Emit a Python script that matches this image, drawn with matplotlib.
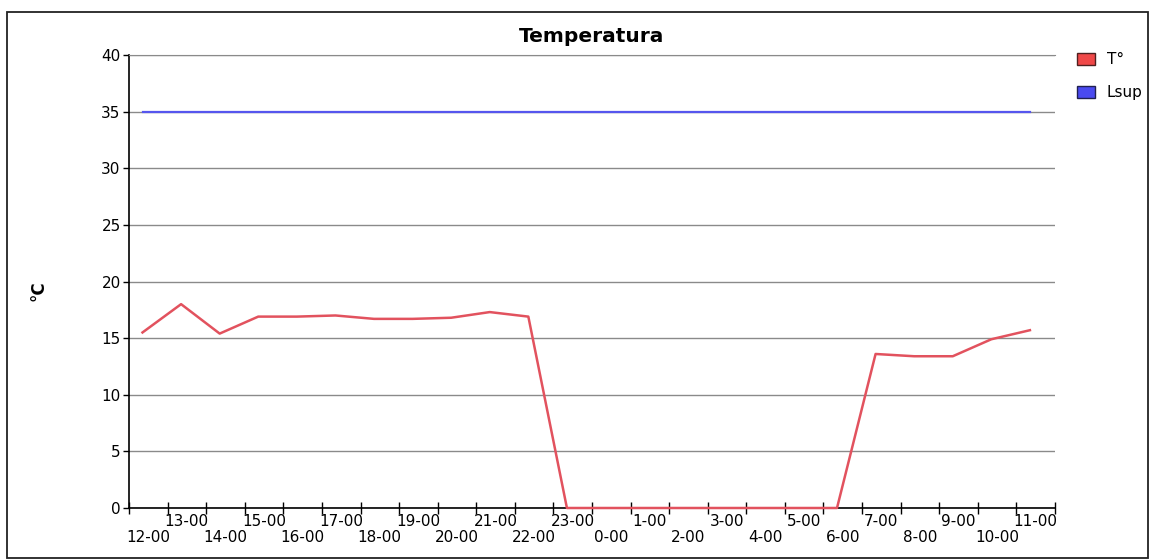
"""
plot.py — Temperature chart with upper limit line.
"""

import matplotlib
matplotlib.use("Agg")
import matplotlib.pyplot as plt
from matplotlib.patches import Patch, Rectangle

# Hourly labels along the x axis
HOURS = [
    "12-00", "13-00", "14-00", "15-00", "16-00", "17-00", "18-00", "19-00",
    "20-00", "21-00", "22-00", "23-00", "0-00", "1-00", "2-00", "3-00",
    "4-00", "5-00", "6-00", "7-00", "8-00", "9-00", "10-00", "11-00",
]

# Measured temperature (°C)
T_VALUES = [
    15.5, 18.0, 15.4, 16.9, 16.9, 17.0, 16.7, 16.7, 16.8, 17.3, 16.9, 0.0,
    0.0, 0.0, 0.0, 0.0, 0.0, 0.0, 0.0, 13.6, 13.4, 13.4, 14.9, 15.7,
]

# Upper limit
LSUP_VALUES = [
    35, 35, 35, 35, 35, 35, 35, 35, 35, 35, 35, 35,
    35, 35, 35, 35, 35, 35, 35, 35, 35, 35, 35, 35,
]

Y_TICKS = [0, 5, 10, 15, 20, 25, 30, 35, 40]

RED = "#e2525e"
BLUE = "#5656ee"
GRID = "#8a8a8a"


def main() -> None:
    plt.rcParams["font.family"] = ["DejaVu Sans"]
    fig = plt.figure(figsize=(11.52, 5.6), dpi=100)
    ax = fig.add_axes([129 / 1152, 1 - 508 / 560, 926 / 1152, 453 / 560])

    x = list(range(len(HOURS)))
    ax.plot(x, LSUP_VALUES, color=BLUE, linewidth=1.6, zorder=3)
    ax.plot(x, T_VALUES, color=RED, linewidth=1.8, zorder=3, clip_on=False)

    ax.set_xlim(-0.35, len(HOURS) - 0.35)
    ax.set_ylim(0, 40)

    # Y axis
    ax.set_yticks(Y_TICKS)
    ax.tick_params(axis="y", direction="out", length=4, width=1, pad=2,
                   labelsize=11, colors="#000000")
    ax.yaxis.grid(True, color=GRID, linewidth=1)
    ax.set_axisbelow(True)

    # X axis: ticks on category boundaries, labels in two staggered rows
    bounds = [k - 0.35 for k in range(len(HOURS) + 1)]
    ax.set_xticks(bounds)
    ax.set_xticklabels([])
    ax.tick_params(axis="x", which="major", direction="inout", length=9, width=1)

    upper = [i for i in x if i % 2 == 1]
    lower = [i for i in x if i % 2 == 0]
    ax.set_xticks([i + 0.15 for i in upper], [HOURS[i] for i in upper], minor=True)
    ax.tick_params(axis="x", which="minor", length=0, pad=4, labelsize=11)

    sec = ax.secondary_xaxis("bottom")
    sec.set_xticks([i + 0.15 for i in lower], [HOURS[i] for i in lower])
    sec.tick_params(axis="x", length=0, pad=15.5, labelsize=11)
    sec.spines["bottom"].set_visible(False)

    ax.spines["right"].set_visible(False)
    ax.spines["top"].set_color(GRID)
    ax.spines["left"].set_linewidth(1.2)
    ax.spines["bottom"].set_linewidth(1.2)

    ax.set_ylabel("°C", fontsize=12, fontweight="bold", rotation=90)
    ax.yaxis.set_label_coords(-0.088, 0.48)

    fig.text(592 / 1152, 1 - 37 / 560, "Temperatura", ha="center", va="center",
             fontsize=14.5, fontweight="bold")

    handles = [
        Patch(facecolor="#f04848", edgecolor="#502020", linewidth=1),
        Patch(facecolor="#4a4af0", edgecolor="#202050", linewidth=1),
    ]
    fig.legend(handles, ["T°", "Lsup"], loc="upper left",
               bbox_to_anchor=(1077 / 1152, 1 - 52 / 560), frameon=False,
               fontsize=11, handlelength=1.15, handleheight=0.85,
               handletextpad=0.8, labelspacing=1.2, borderpad=0,
               borderaxespad=0)

    # Outer frame
    fig.add_artist(Rectangle((7 / 1152, 1 - 558 / 560), 1141 / 1152, 546 / 560,
                             transform=fig.transFigure, fill=False,
                             edgecolor="#222222", linewidth=1.3))

    fig.savefig("out.png", dpi=100)
    plt.close(fig)


if __name__ == "__main__":
    main()
